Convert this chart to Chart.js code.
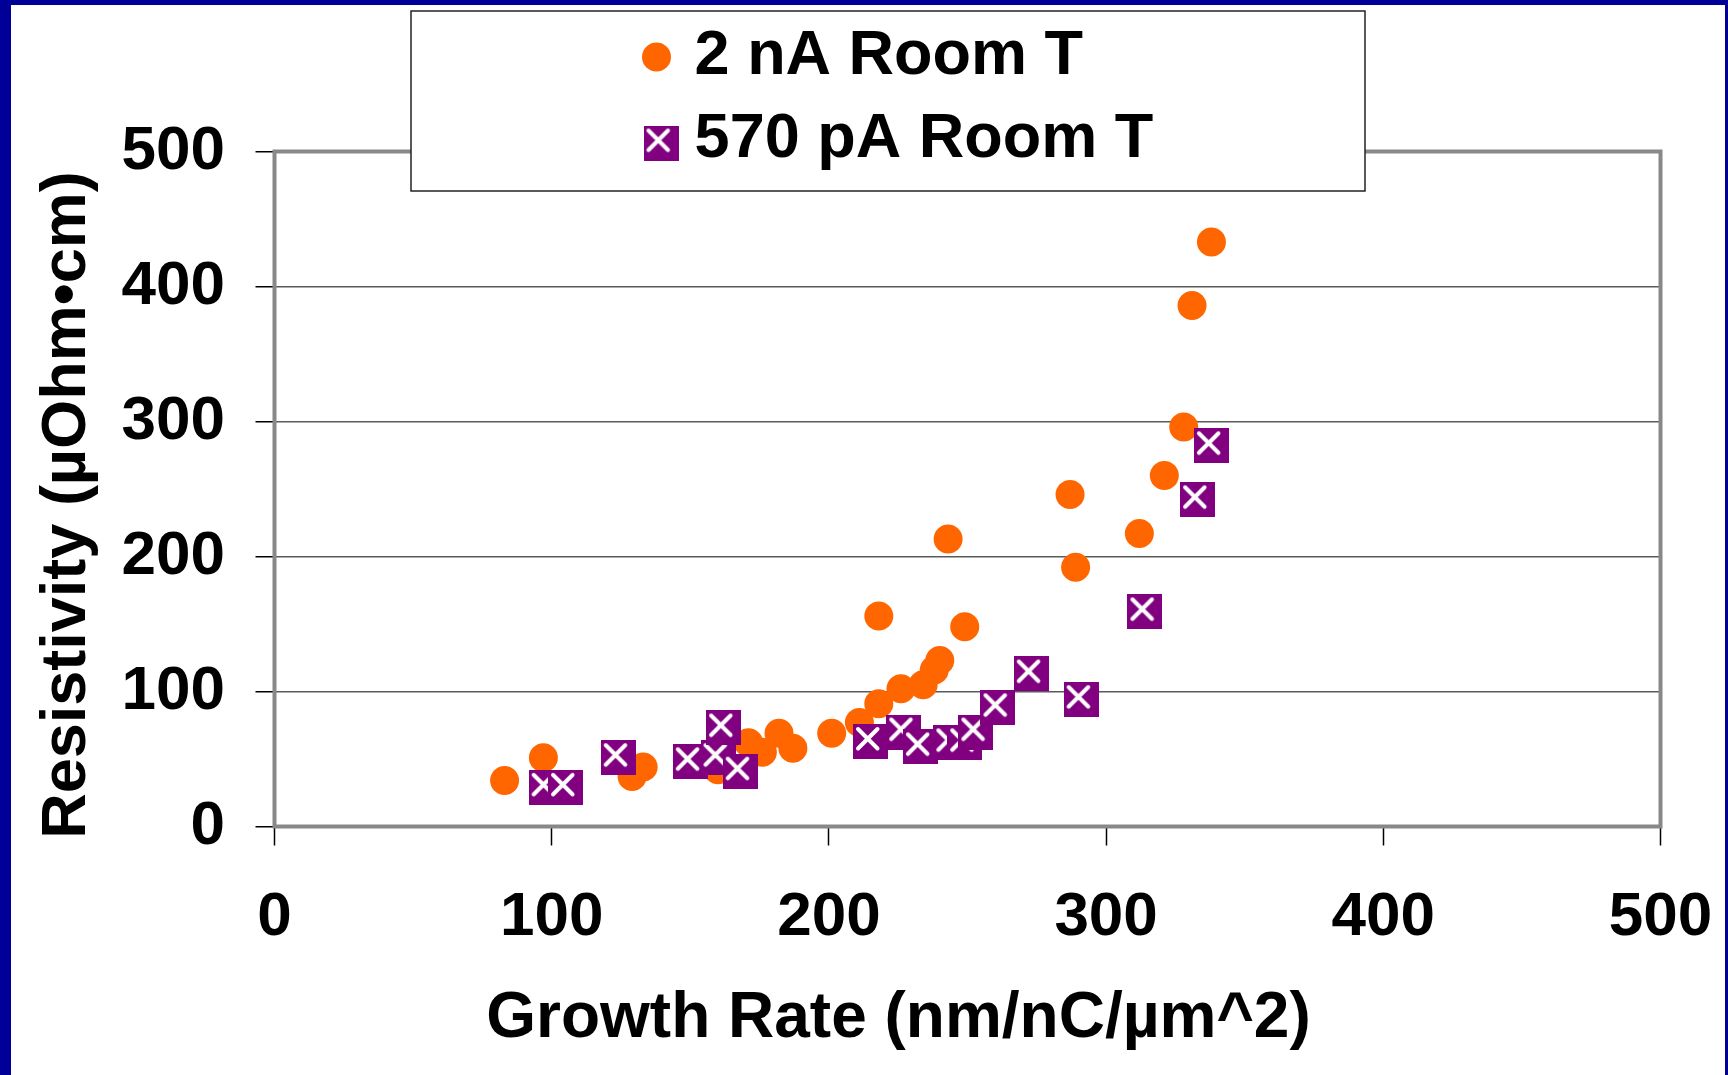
<!DOCTYPE html>
<html><head><meta charset="utf-8">
<script src="https://cdn.jsdelivr.net/npm/chart.js@4.4.1/dist/chart.umd.min.js"></script>
<style>
html,body{margin:0;padding:0;background:#000099;width:1728px;height:1075px;overflow:hidden}
#wrap{position:absolute;left:11px;top:5px;width:1714px;height:1070px;background:#fff}
canvas{display:block}
</style></head><body><div id="wrap"><canvas id="c"></canvas></div>
<script>
// ---- data ----
const seriesNames = ['2 nA Room T', '570 pA Room T'];
const nA2X = [83, 97, 129, 133, 160, 171, 176, 182, 187, 201, 211, 218, 218, 226, 234, 238, 240, 243, 249, 287, 289, 312, 321, 328, 331, 338];
const nA2Y = [34, 51, 37, 44, 42, 62, 55, 69, 58, 69, 77, 91, 156, 102, 105, 116, 123, 213, 148, 246, 192, 217, 260, 296, 386, 433];
const pA570X = [98, 105, 124, 150, 160, 162, 168, 215, 227, 233, 244, 249, 253, 261, 273, 291, 314, 333, 338];
const pA570Y = [29, 29, 51, 48, 51, 73, 41, 63, 70, 59, 62, 62, 70, 88, 113, 94, 159, 242, 282];
const xTickValues = [0, 100, 200, 300, 400, 500];
const yTickValues = [0, 100, 200, 300, 400, 500];
const xTitle = 'Growth Rate (nm/nC/µm^2)';
const yTitle = 'Resistivity (µOhm•cm)';

// ---- styles ----
const FAMILY = "'Liberation Sans', Arial, sans-serif";
const ORANGE = '#FF6600';
const PURPLE = '#800080';

// purple square marker with white X
const sq = document.createElement('canvas');
sq.width = 35; sq.height = 35;
(function(){
  const c = sq.getContext('2d');
  c.fillStyle = PURPLE; c.fillRect(0, 0, 35, 35);
  c.strokeStyle = '#fff'; c.lineWidth = 4; c.lineCap = 'round';
  c.beginPath();
  c.moveTo(5, 5); c.lineTo(24.5, 24.5);
  c.moveTo(24.5, 5); c.lineTo(5, 24.5);
  c.stroke();
})();

const toPts = (xs, ys) => xs.map((x, i) => ({x: x, y: ys[i]}));

const framePlugin = {
  id: 'frame',
  beforeDatasetsDraw(chart) {
    const {ctx, chartArea: a} = chart;
    ctx.save();
    ctx.strokeStyle = '#888';
    ctx.lineWidth = 4;
    ctx.strokeRect(a.left, a.top, a.right - a.left, a.bottom - a.top);
    ctx.restore();
  },
  afterDraw(chart) {
    const {ctx, chartArea: a} = chart;
    ctx.save();
    ctx.fillStyle = '#000';
    ctx.font = 'bold 64px ' + FAMILY;
    // x title
    ctx.textAlign = 'center';
    ctx.textBaseline = 'alphabetic';
    ctx.fillText(xTitle, a.left + 624, a.bottom + 210);
    // y title
    ctx.save();
    ctx.font = 'bold 63px ' + FAMILY;
    ctx.translate(74, (a.top + a.bottom) / 2 + 16);
    ctx.rotate(-Math.PI / 2);
    ctx.fillText(yTitle, 0, 0);
    ctx.restore();
    // legend box
    const bx = 400, by = 6, bw = 954, bh = 180;
    ctx.fillStyle = '#fff';
    ctx.fillRect(bx, by, bw, bh);
    ctx.strokeStyle = '#222';
    ctx.lineWidth = 1.5;
    ctx.strokeRect(bx, by, bw, bh);
    const rows = [{my: 52, mx: 645.5, ty: 69}, {my: 138, mx: 650, ty: 151.7}];
    chart.data.datasets.forEach((ds, i) => {
      const r = rows[i];
      ctx.fillStyle = ds.backgroundColor;
      Chart.helpers.drawPoint(ctx, {pointStyle: ds.pointStyle, radius: ds.pointRadius, rotation: 0, borderWidth: 0}, r.mx, r.my);
      ctx.fillStyle = '#000';
      ctx.textAlign = 'left';
      ctx.textBaseline = 'alphabetic';
      ctx.font = 'bold 63px ' + FAMILY;
      ctx.fillText(ds.label, 683.6, r.ty);
    });
    ctx.restore();
  }
};

new Chart(document.getElementById('c'), {
  type: 'scatter',
  data: {
    datasets: [
      {label: seriesNames[0], data: toPts(nA2X, nA2Y), backgroundColor: ORANGE, borderWidth: 0,
       pointStyle: 'circle', pointRadius: 14.5, order: 2},
      {label: seriesNames[1], data: toPts(pA570X, pA570Y), backgroundColor: PURPLE, borderWidth: 0,
       pointStyle: sq, pointRadius: 17, order: 1}
    ]
  },
  options: {
    responsive: true,
    maintainAspectRatio: false,
    animation: false,
    events: [],
    layout: {padding: {left: 0, right: 64.5, top: 146.5, bottom: 0}},
    plugins: {legend: {display: false}, tooltip: {enabled: false}},
    scales: {
      x: {
        type: 'linear', min: 0, max: 500,
        afterBuildTicks: s => { s.ticks = xTickValues.map(v => ({value: v})); },
        afterFit: s => { s.height = 248.5; s.paddingLeft = 0; s.paddingRight = 0; },
        grid: {drawOnChartArea: false, drawTicks: true, tickLength: 19, tickColor: '#000', tickWidth: 1.5},
        border: {display: false},
        ticks: {color: '#000', padding: 35, font: {family: FAMILY, size: 62, weight: 'bold', lineHeight: 1.2}, maxRotation: 0}
      },
      y: {
        type: 'linear', min: 0, max: 500,
        afterBuildTicks: s => { s.ticks = yTickValues.map(v => ({value: v})); },
        afterFit: s => { s.width = 263.5; s.paddingTop = 0; s.paddingBottom = 0; },
        grid: {color: '#5a5a5a', lineWidth: 1.5, drawTicks: true, tickLength: 19, tickColor: '#000', tickWidth: 1.5},
        border: {display: false},
        ticks: {color: '#000', padding: 30.5, font: {family: FAMILY, size: 62, weight: 'bold'}}
      }
    }
  },
  plugins: [framePlugin]
});
</script></body></html>
